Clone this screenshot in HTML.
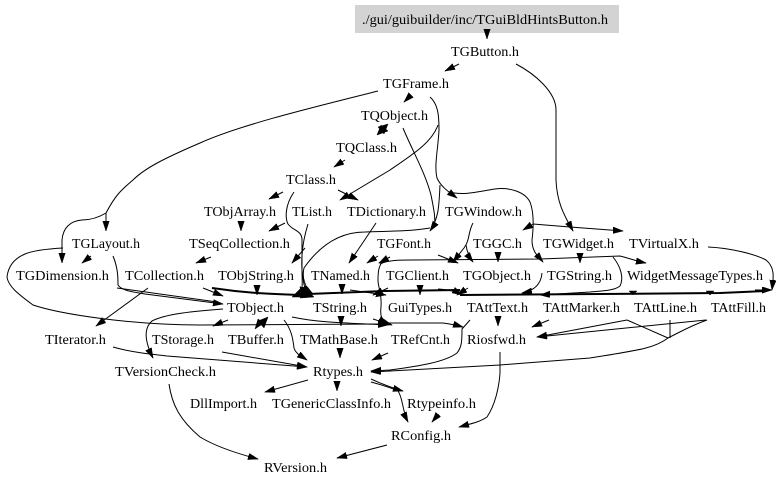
<!DOCTYPE html>
<html><head><meta charset="utf-8"><style>
html,body{margin:0;padding:0;background:#fff;width:779px;height:486px;overflow:hidden}
svg{display:block}
text{font-family:"Liberation Serif",serif;font-size:14px;fill:#000}
path{fill:none;stroke:#000;stroke-width:1}
.t{stroke-width:2}
polygon{fill:#000;stroke:#000;stroke-width:.5}
</style></head><body>
<svg width="779" height="486" viewBox="0 0 779 486" xmlns="http://www.w3.org/2000/svg">
<defs><marker id="a" markerUnits="userSpaceOnUse" markerWidth="11" markerHeight="8" refX="10" refY="3.25" orient="auto"><polygon points="0,0 10,3.25 0,6.5"/></marker></defs>
<rect x="355" y="5" width="264" height="28" fill="#d3d3d3"/>
<g>
<text x="362" y="24" textLength="246" lengthAdjust="spacingAndGlyphs">./gui/guibuilder/inc/TGuiBldHintsButton.h</text>
<text x="451" y="56" textLength="68" lengthAdjust="spacingAndGlyphs">TGButton.h</text>
<text x="383" y="88" textLength="66" lengthAdjust="spacingAndGlyphs">TGFrame.h</text>
<text x="361" y="120" textLength="67" lengthAdjust="spacingAndGlyphs">TQObject.h</text>
<text x="336" y="152" textLength="61" lengthAdjust="spacingAndGlyphs">TQClass.h</text>
<text x="286" y="184" textLength="50" lengthAdjust="spacingAndGlyphs">TClass.h</text>
<text x="204" y="216" textLength="72" lengthAdjust="spacingAndGlyphs">TObjArray.h</text>
<text x="292" y="216" textLength="40" lengthAdjust="spacingAndGlyphs">TList.h</text>
<text x="347" y="216" textLength="79" lengthAdjust="spacingAndGlyphs">TDictionary.h</text>
<text x="445" y="216" textLength="77" lengthAdjust="spacingAndGlyphs">TGWindow.h</text>
<text x="72" y="248" textLength="68" lengthAdjust="spacingAndGlyphs">TGLayout.h</text>
<text x="189" y="248" textLength="101" lengthAdjust="spacingAndGlyphs">TSeqCollection.h</text>
<text x="377" y="248" textLength="54" lengthAdjust="spacingAndGlyphs">TGFont.h</text>
<text x="473" y="248" textLength="49" lengthAdjust="spacingAndGlyphs">TGGC.h</text>
<text x="543" y="248" textLength="71" lengthAdjust="spacingAndGlyphs">TGWidget.h</text>
<text x="629" y="248" textLength="70" lengthAdjust="spacingAndGlyphs">TVirtualX.h</text>
<text x="16" y="280" textLength="93" lengthAdjust="spacingAndGlyphs">TGDimension.h</text>
<text x="125" y="280" textLength="79" lengthAdjust="spacingAndGlyphs">TCollection.h</text>
<text x="218" y="280" textLength="76" lengthAdjust="spacingAndGlyphs">TObjString.h</text>
<text x="311" y="280" textLength="59" lengthAdjust="spacingAndGlyphs">TNamed.h</text>
<text x="386" y="280" textLength="63" lengthAdjust="spacingAndGlyphs">TGClient.h</text>
<text x="463" y="280" textLength="68" lengthAdjust="spacingAndGlyphs">TGObject.h</text>
<text x="547" y="280" textLength="65" lengthAdjust="spacingAndGlyphs">TGString.h</text>
<text x="627" y="280" textLength="136" lengthAdjust="spacingAndGlyphs">WidgetMessageTypes.h</text>
<text x="227" y="312" textLength="57" lengthAdjust="spacingAndGlyphs">TObject.h</text>
<text x="313" y="312" textLength="54" lengthAdjust="spacingAndGlyphs">TString.h</text>
<text x="388" y="312" textLength="64" lengthAdjust="spacingAndGlyphs">GuiTypes.h</text>
<text x="467" y="312" textLength="61" lengthAdjust="spacingAndGlyphs">TAttText.h</text>
<text x="543" y="312" textLength="77" lengthAdjust="spacingAndGlyphs">TAttMarker.h</text>
<text x="634" y="312" textLength="63" lengthAdjust="spacingAndGlyphs">TAttLine.h</text>
<text x="711" y="312" textLength="55" lengthAdjust="spacingAndGlyphs">TAttFill.h</text>
<text x="45" y="344" textLength="61" lengthAdjust="spacingAndGlyphs">TIterator.h</text>
<text x="152" y="344" textLength="62" lengthAdjust="spacingAndGlyphs">TStorage.h</text>
<text x="228" y="344" textLength="56" lengthAdjust="spacingAndGlyphs">TBuffer.h</text>
<text x="300" y="344" textLength="78" lengthAdjust="spacingAndGlyphs">TMathBase.h</text>
<text x="391" y="344" textLength="59" lengthAdjust="spacingAndGlyphs">TRefCnt.h</text>
<text x="467" y="344" textLength="59" lengthAdjust="spacingAndGlyphs">Riosfwd.h</text>
<text x="115" y="376" textLength="101" lengthAdjust="spacingAndGlyphs">TVersionCheck.h</text>
<text x="313" y="376" textLength="50" lengthAdjust="spacingAndGlyphs">Rtypes.h</text>
<text x="190" y="408" textLength="67" lengthAdjust="spacingAndGlyphs">DllImport.h</text>
<text x="272" y="408" textLength="119" lengthAdjust="spacingAndGlyphs">TGenericClassInfo.h</text>
<text x="407" y="408" textLength="69" lengthAdjust="spacingAndGlyphs">Rtypeinfo.h</text>
<text x="391" y="440" textLength="60" lengthAdjust="spacingAndGlyphs">RConfig.h</text>
<text x="264" y="472" textLength="63" lengthAdjust="spacingAndGlyphs">RVersion.h</text>
</g>
<g>
<path d="M487,31 L487,39" marker-end="url(#a)"/>
<path d="M459,64 L445,71" marker-end="url(#a)"/>
<path d="M516,64 C535,74 556,92 556,110 L556,180 C557,205 566,218 573,231" marker-end="url(#a)"/>
<path d="M411,95 L404,102" marker-end="url(#a)"/>
<path d="M378,91 C310,108 240,125 200,143 C165,158 145,168 133,180 C120,191 115,196 106,213 L106,231" marker-end="url(#a)"/>
<path d="M106,213 C96,219 87,220 82,220 C70,221 63,228 62,240 L62,263" marker-end="url(#a)"/>
<path d="M430,97 C438,104 439,115 439,130 C438,150 434,165 437,178 C441,187 449,192 457,198" marker-end="url(#a)"/>
<path d="M449,192 C465,196 480,191 495,189 C510,187 525,192 530,202 C535,215 533,232 532,240 C532,252 538,256 543,262" marker-end="url(#a)"/>
<path d="M438,125 C432,142 415,153 390,170 L340,200" marker-end="url(#a)"/>
<path d="M338,190 L358,200" marker-end="url(#a)"/>
<path d="M403,128 C412,150 425,172 431,195 C434,210 436,220 434,226"/>
<path d="M440,185 C439,205 439,218 430,231" marker-end="url(#a)"/>
<path d="M430,228 C405,232 385,231 365,232 C340,232 320,245 304,268 C302,276 304,288 313,294" marker-end="url(#a)"/>
<path d="M294,192 C285,205 285,218 288,224 C293,231 302,230 302,240 L302,270 C303,280 304,288 308,296" marker-end="url(#a)"/>
<path d="M308,224 C303,240 301,255 302,270 C302,280 303,288 301,297" marker-end="url(#a)"/>
<path d="M283,192 L269,199" marker-end="url(#a)"/>
<path d="M285,223 L269,231" marker-end="url(#a)"/>
<polygon points="377,135 381,125 388,131"/>
<polygon points="388,124 378,127 384,134"/>
<path d="M345,160 L334,167" marker-end="url(#a)"/>
<path d="M241,223 L241,231" marker-end="url(#a)"/>
<path d="M211,257 L196,263" marker-end="url(#a)"/>
<path d="M91,256 L82,263" marker-end="url(#a)"/>
<path d="M376,223 C368,235 358,250 349,263" marker-end="url(#a)"/>
<path d="M378,256 L367,263" marker-end="url(#a)"/>
<path d="M390,257 L379,263" marker-end="url(#a)"/>
<path d="M387,257 C378,264 378,272 378,280 C378,288 382,292 381,307 C380,315 381,320 388,324" marker-end="url(#a)"/>
<path d="M380,264 C388,260 400,260 412,260 L540,259 L620,256 C628,258 636,261 646,263" marker-end="url(#a)"/>
<path d="M473,223 C468,232 470,240 464,248 L453,262" marker-end="url(#a)"/>
<path d="M466,245 C467,253 470,258 473,262" marker-end="url(#a)"/>
<path d="M438,255 L458,263" marker-end="url(#a)"/>
<path d="M498,255 L498,262" marker-end="url(#a)"/>
<path d="M580,256 L580,263" marker-end="url(#a)"/>
<path d="M305,248 L292,263" marker-end="url(#a)"/>
<path d="M708,247 C730,248 755,254 766,260 C776,268 773,280 772,290" marker-end="url(#a)"/>
<path d="M212,288 C245,293 270,294 300,295" class="t"/>
<polygon points="292,297 300,289 308,297"/>
<polygon points="300,298 306,289 314,297"/>
<path d="M308,294 L385,291 L460,290" class="t"/>
<path d="M460,295 L600,294 L720,293 L765,291" class="t"/>
<path d="M755,290 L772,290" marker-end="url(#a)"/>
<path d="M257,288 L257,295" marker-end="url(#a)"/>
<path d="M342,287 L342,294" marker-end="url(#a)"/>
<path d="M420,287 L420,295" marker-end="url(#a)"/>
<polygon points="629,291 637,291 633,295"/>
<polygon points="706,291 714,291 710,295"/>
<path d="M388,288 L373,295" marker-end="url(#a)"/>
<path d="M350,290 L386,295" marker-end="url(#a)"/>
<path d="M438,289 C450,290 455,291 462,295" marker-end="url(#a)"/>
<path d="M468,288 L457,295" marker-end="url(#a)"/>
<path d="M542,273 C541,285 533,291 522,293" marker-end="url(#a)"/>
<path d="M613,257 C621,267 624,278 620,286 C614,291 600,291 590,292 L540,295" marker-end="url(#a)"/>
<path d="M113,256 C118,268 118,278 118,285 C122,291 134,292 145,294 L223,304" marker-end="url(#a)"/>
<path d="M117,288 L217,302"/>
<path d="M203,288 L223,296" marker-end="url(#a)"/>
<path d="M63,248 C45,249 32,251 25,254 C13,259 8,268 7,277 C8,286 18,294 33,305 C60,314 130,325 200,325 L388,324" marker-end="url(#a)"/>
<path d="M385,323 L443,323 C450,324 456,325 463,327" marker-end="url(#a)"/>
<path d="M292,317 C320,323 350,323 388,325" marker-end="url(#a)"/>
<path d="M373,319 L392,325" marker-end="url(#a)"/>
<path d="M148,288 L96,326" marker-end="url(#a)"/>
<path d="M113,347 C130,352 150,354 167,356 L307,367" marker-end="url(#a)"/>
<path d="M222,352 L307,367" marker-end="url(#a)"/>
<path d="M223,309 C195,311 165,314 152,321 C144,328 144,340 153,358" marker-end="url(#a)"/>
<path d="M228,320 L213,326" marker-end="url(#a)"/>
<polygon points="255,329 258,319 264,323"/>
<polygon points="268,317 258,321 264,328"/>
<path d="M284,320 C292,330 293,340 294,348 C296,354 301,356 307,360" marker-end="url(#a)"/>
<path d="M341,319 L341,326" marker-end="url(#a)"/>
<path d="M388,353 L372,360" marker-end="url(#a)"/>
<path d="M340,351 L340,358" marker-end="url(#a)"/>
<path d="M470,320 L462,329 C462,340 462,347 457,353 C445,362 420,366 390,370 L371,371" marker-end="url(#a)"/>
<path d="M707,320 C690,326 680,332 668,338 C655,348 640,350 590,358 L500,365 L371,372" marker-end="url(#a)"/>
<path d="M627,320 L537,337" marker-end="url(#a)"/>
<path d="M706,320 L537,337" marker-end="url(#a)"/>
<path d="M627,320 L668,338"/>
<path d="M670,320 L670,338"/>
<path d="M549,320 L532,327" marker-end="url(#a)"/>
<path d="M498,319 L498,326" marker-end="url(#a)"/>
<path d="M500,352 L500,373 C499,388 495,405 487,417 C480,422 470,424 459,427" marker-end="url(#a)"/>
<path d="M308,380 L265,392" marker-end="url(#a)"/>
<path d="M337,383 L337,391" marker-end="url(#a)"/>
<path d="M371,379 C382,384 392,388 403,391" marker-end="url(#a)"/>
<path d="M371,382 C382,385 392,388 398,391 C403,398 402,410 408,422" marker-end="url(#a)"/>
<path d="M437,416 L432,422" marker-end="url(#a)"/>
<path d="M387,445 L337,458" marker-end="url(#a)"/>
<path d="M169,384 C172,405 180,420 200,437 C215,446 235,453 258,459" marker-end="url(#a)"/>
<path d="M533,224 L570,227 L623,231" marker-end="url(#a)"/>
<path d="M533,224 L523,230" marker-end="url(#a)"/>
</g>
</svg>
</body></html>
